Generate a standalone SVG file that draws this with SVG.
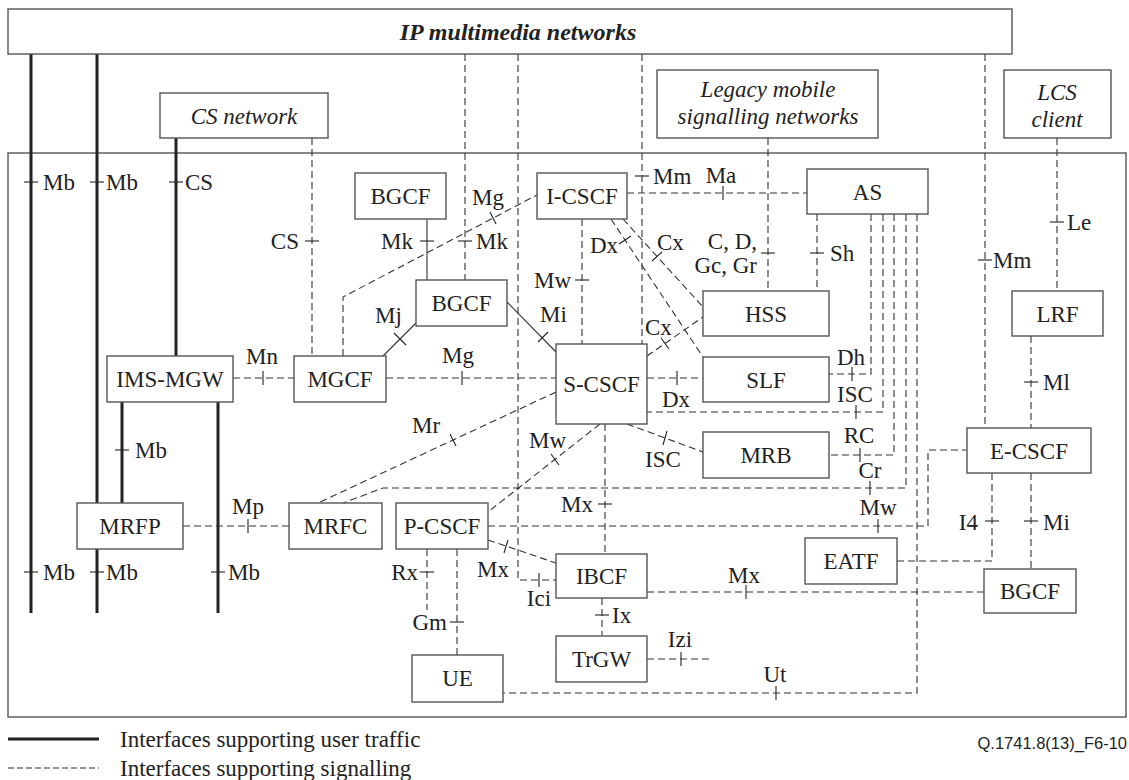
<svg xmlns="http://www.w3.org/2000/svg" width="1129" height="780" viewBox="0 0 1129 780" font-family="'Liberation Serif','Times New Roman','DejaVu Serif',serif">
<style>
.frame{fill:none;stroke:#555;stroke-width:1.4}
.box{fill:#fff;stroke:#555;stroke-width:1.4}
.usr{fill:none;stroke:#222;stroke-width:3}
.sig{fill:none;stroke:#333;stroke-width:1.1;stroke-dasharray:7 4}
.thin{fill:none;stroke:#333;stroke-width:1.1}
.tick{stroke:#222;stroke-width:1.1}
text{font-family:'Liberation Serif','Times New Roman','DejaVu Serif',serif;font-size:23px;fill:#222}
.c{text-anchor:middle}
.e{text-anchor:end}
.it{font-style:italic}
.cap{font-family:'Liberation Sans',Arial,sans-serif;font-size:16.5px;text-anchor:end}
</style>
<rect width="1129" height="780" fill="#fff"/>
<g id="frames">
<rect class="frame" x="8" y="153" width="1118" height="564"/>
</g>
<g id="connectors">
<line class="usr" x1="31" y1="54" x2="31" y2="613"/>
<line class="usr" x1="97" y1="54" x2="97" y2="613"/>
<line class="usr" x1="176" y1="138" x2="176" y2="356"/>
<line class="usr" x1="122" y1="402" x2="122" y2="503"/>
<line class="usr" x1="218" y1="402" x2="218" y2="613"/>
<line class="thin" x1="427" y1="219" x2="427" y2="280"/>
<line class="thin" x1="416" y1="323" x2="383" y2="356"/>
<line class="thin" x1="507" y1="302" x2="556" y2="352"/>
<line class="sig" x1="312" y1="138" x2="312" y2="356"/>
<polyline class="sig" points="343,356 343,297 537,195"/>
<line class="sig" x1="465" y1="54" x2="465" y2="280"/>
<polyline class="sig" points="518,54 518,580 556,580"/>
<line class="sig" x1="642" y1="54" x2="642" y2="344"/>
<line class="sig" x1="582" y1="219" x2="582" y2="344"/>
<line class="sig" x1="627" y1="193" x2="807" y2="193"/>
<line class="sig" x1="768" y1="138" x2="768" y2="291"/>
<line class="sig" x1="611" y1="219" x2="703" y2="357"/>
<line class="sig" x1="623" y1="219" x2="703" y2="307"/>
<line class="sig" x1="647" y1="356" x2="703" y2="317"/>
<line class="sig" x1="647" y1="378" x2="703" y2="378"/>
<line class="sig" x1="386" y1="378" x2="556" y2="378"/>
<line class="sig" x1="233" y1="378" x2="294" y2="378"/>
<line class="sig" x1="817" y1="214" x2="817" y2="291"/>
<polyline class="sig" points="871,214 871,374 829,374"/>
<polyline class="sig" points="883,214 883,412 647,412"/>
<polyline class="sig" points="894,214 894,455 829,455"/>
<polyline class="sig" points="906,214 906,488 383,488 343,503"/>
<polyline class="sig" points="917,214 917,693 503,693"/>
<line class="sig" x1="627" y1="424" x2="703" y2="452"/>
<line class="sig" x1="556" y1="392" x2="318" y2="503"/>
<line class="sig" x1="600" y1="424" x2="488" y2="512"/>
<line class="sig" x1="605" y1="424" x2="605" y2="554"/>
<polyline class="sig" points="488,526 928,526 928,450 967,450"/>
<line class="sig" x1="183" y1="526" x2="289" y2="526"/>
<line class="sig" x1="488" y1="540" x2="556" y2="563"/>
<line class="sig" x1="427" y1="549" x2="427" y2="610"/>
<line class="sig" x1="457" y1="549" x2="457" y2="655"/>
<line class="sig" x1="602" y1="598" x2="602" y2="636"/>
<line class="sig" x1="647" y1="659" x2="710" y2="659"/>
<line class="sig" x1="647" y1="592" x2="984" y2="592"/>
<line class="sig" x1="985" y1="54" x2="985" y2="428"/>
<line class="sig" x1="1057" y1="138" x2="1057" y2="291"/>
<line class="sig" x1="1031" y1="336" x2="1031" y2="428"/>
<line class="sig" x1="1031" y1="473" x2="1031" y2="569"/>
<polyline class="sig" points="992,473 992,561 897,561"/>
<g class="tick">
<line x1="24" y1="182" x2="38" y2="182"/>
<line x1="90" y1="182" x2="104" y2="182"/>
<line x1="169" y1="182" x2="183" y2="182"/>
<line x1="24" y1="572" x2="38" y2="572"/>
<line x1="90" y1="572" x2="104" y2="572"/>
<line x1="211" y1="572" x2="225" y2="572"/>
<line x1="115" y1="450" x2="129" y2="450"/>
<line x1="305" y1="241" x2="319" y2="241"/>
<line x1="420" y1="241" x2="434" y2="241"/>
<line x1="458" y1="241" x2="472" y2="241"/>
<line x1="490" y1="212" x2="496" y2="224"/>
<line x1="635" y1="176" x2="649" y2="176"/>
<line x1="723" y1="186" x2="723" y2="200"/>
<line x1="575" y1="280" x2="589" y2="280"/>
<line x1="619" y1="244" x2="631" y2="236"/>
<line x1="652" y1="261" x2="662" y2="252"/>
<line x1="761" y1="253" x2="775" y2="253"/>
<line x1="810" y1="253" x2="824" y2="253"/>
<line x1="394" y1="333" x2="406" y2="345"/>
<line x1="538" y1="342" x2="548" y2="332"/>
<line x1="661" y1="338" x2="669" y2="349"/>
<line x1="677" y1="371" x2="677" y2="385"/>
<line x1="462" y1="371" x2="462" y2="385"/>
<line x1="263" y1="371" x2="263" y2="385"/>
<line x1="852" y1="367" x2="852" y2="381"/>
<line x1="856" y1="405" x2="856" y2="419"/>
<line x1="860" y1="448" x2="860" y2="462"/>
<line x1="870" y1="481" x2="870" y2="495"/>
<line x1="878" y1="519" x2="878" y2="533"/>
<line x1="450" y1="434" x2="456" y2="446"/>
<line x1="551" y1="454" x2="559" y2="465"/>
<line x1="667" y1="431" x2="663" y2="445"/>
<line x1="598" y1="504" x2="612" y2="504"/>
<line x1="248" y1="519" x2="248" y2="533"/>
<line x1="508" y1="540" x2="504" y2="553"/>
<line x1="539" y1="573" x2="539" y2="587"/>
<line x1="420" y1="572" x2="434" y2="572"/>
<line x1="450" y1="622" x2="464" y2="622"/>
<line x1="595" y1="615" x2="609" y2="615"/>
<line x1="681" y1="652" x2="681" y2="666"/>
<line x1="776" y1="686" x2="776" y2="700"/>
<line x1="746" y1="585" x2="746" y2="599"/>
<line x1="978" y1="260" x2="992" y2="260"/>
<line x1="1050" y1="222" x2="1064" y2="222"/>
<line x1="1024" y1="382" x2="1038" y2="382"/>
<line x1="1024" y1="521" x2="1038" y2="521"/>
<line x1="985" y1="521" x2="999" y2="521"/>
</g>
</g>
<g id="ip-multimedia">
<rect class="box" x="8" y="9" width="1004" height="45"/>
<text class="c it" x="518" y="40" style="font-weight:bold;font-size:24px">IP multimedia networks</text>
</g>
<g id="cs-network">
<rect class="box" x="160" y="93" width="168" height="45"/>
<text class="c it" x="244" y="124">CS network</text>
</g>
<g id="legacy">
<rect class="box" x="657" y="70" width="221" height="68"/>
<text class="c it" x="768" y="97">Legacy mobile</text>
<text class="c it" x="768" y="124">signalling networks</text>
</g>
<g id="lcs-client">
<rect class="box" x="1004" y="70" width="107" height="68"/>
<text class="c it" x="1057" y="100">LCS</text>
<text class="c it" x="1057" y="127">client</text>
</g>
<g id="bgcf-top"><rect class="box" x="355" y="173" width="91" height="46"/><text class="c" x="400.5" y="204">BGCF</text></g>
<g id="i-cscf"><rect class="box" x="537" y="173" width="90" height="46"/><text class="c" x="582" y="204">I-CSCF</text></g>
<g id="as"><rect class="box" x="807" y="169" width="121" height="45"/><text class="c" x="867.5" y="200">AS</text></g>
<g id="bgcf-mid"><rect class="box" x="416" y="280" width="91" height="46"/><text class="c" x="461.5" y="311">BGCF</text></g>
<g id="hss"><rect class="box" x="703" y="291" width="126" height="45"/><text class="c" x="766" y="322">HSS</text></g>
<g id="lrf"><rect class="box" x="1012" y="291" width="91" height="45"/><text class="c" x="1057.5" y="322">LRF</text></g>
<g id="s-cscf"><rect class="box" x="556" y="344" width="91" height="80"/><text class="c" x="601.5" y="392">S-CSCF</text></g>
<g id="ims-mgw"><rect class="box" x="107" y="356" width="126" height="46"/><text class="c" x="170" y="387">IMS-MGW</text></g>
<g id="mgcf"><rect class="box" x="294" y="356" width="92" height="46"/><text class="c" x="340" y="387">MGCF</text></g>
<g id="slf"><rect class="box" x="703" y="357" width="126" height="45"/><text class="c" x="766" y="388">SLF</text></g>
<g id="mrb"><rect class="box" x="703" y="432" width="126" height="46"/><text class="c" x="766" y="463">MRB</text></g>
<g id="e-cscf"><rect class="box" x="967" y="428" width="124" height="45"/><text class="c" x="1029" y="459">E-CSCF</text></g>
<g id="mrfp"><rect class="box" x="77" y="503" width="106" height="46"/><text class="c" x="130" y="534">MRFP</text></g>
<g id="mrfc"><rect class="box" x="289" y="503" width="93" height="46"/><text class="c" x="335.5" y="534">MRFC</text></g>
<g id="p-cscf"><rect class="box" x="396" y="503" width="92" height="46"/><text class="c" x="442" y="534">P-CSCF</text></g>
<g id="eatf"><rect class="box" x="805" y="538" width="92" height="46"/><text class="c" x="851" y="569">EATF</text></g>
<g id="ibcf"><rect class="box" x="556" y="554" width="91" height="44"/><text class="c" x="601.5" y="584">IBCF</text></g>
<g id="bgcf-right"><rect class="box" x="984" y="569" width="92" height="44"/><text class="c" x="1030" y="599">BGCF</text></g>
<g id="trgw"><rect class="box" x="556" y="636" width="91" height="46"/><text class="c" x="601.5" y="667">TrGW</text></g>
<g id="ue"><rect class="box" x="412" y="655" width="91" height="47"/><text class="c" x="457.5" y="686">UE</text></g>
<g id="labels">
<text x="43" y="190">Mb</text>
<text x="106" y="190">Mb</text>
<text x="185" y="190">CS</text>
<text x="43" y="580">Mb</text>
<text x="106" y="580">Mb</text>
<text x="228" y="580">Mb</text>
<text x="135" y="458">Mb</text>
<text class="e" x="299" y="249">CS</text>
<text class="e" x="413" y="249">Mk</text>
<text x="476" y="249">Mk</text>
<text x="472" y="205">Mg</text>
<text x="653" y="184">Mm</text>
<text class="c" x="721" y="183">Ma</text>
<text class="e" x="571" y="288">Mw</text>
<text x="590" y="253">Dx</text>
<text x="657" y="250">Cx</text>
<text class="e" x="757" y="249">C, D,</text>
<text class="e" x="757" y="273">Gc, Gr</text>
<text x="830" y="261">Sh</text>
<text x="375" y="323">Mj</text>
<text x="540" y="322">Mi</text>
<text x="645" y="335">Cx</text>
<text class="c" x="676" y="407">Dx</text>
<text class="c" x="458" y="363">Mg</text>
<text class="c" x="262" y="364">Mn</text>
<text class="c" x="851" y="365">Dh</text>
<text class="c" x="855" y="402">ISC</text>
<text class="c" x="859" y="443">RC</text>
<text class="c" x="870" y="478">Cr</text>
<text class="c" x="878" y="515">Mw</text>
<text x="412" y="433">Mr</text>
<text x="529" y="448">Mw</text>
<text x="645" y="467">ISC</text>
<text class="e" x="593" y="512">Mx</text>
<text class="c" x="248" y="514">Mp</text>
<text x="477" y="577">Mx</text>
<text class="c" x="539" y="606">Ici</text>
<text class="e" x="418" y="580">Rx</text>
<text class="e" x="447" y="630">Gm</text>
<text x="612" y="623">Ix</text>
<text class="c" x="680" y="647">Izi</text>
<text class="c" x="775" y="682">Ut</text>
<text class="c" x="744" y="583">Mx</text>
<text x="993" y="268">Mm</text>
<text x="1067" y="230">Le</text>
<text x="1043" y="390">Ml</text>
<text x="1043" y="530">Mi</text>
<text class="e" x="978" y="530">I4</text>
</g>
<g id="legend">
<line class="usr" x1="8" y1="739" x2="99" y2="739"/>
<line x1="8" y1="768" x2="99" y2="768" style="stroke:#333;stroke-width:1.1;stroke-dasharray:6 3"/>
<text x="120" y="747">Interfaces supporting user traffic</text>
<text x="120" y="776">Interfaces supporting signalling</text>
<text class="cap" x="1127" y="749">Q.1741.8(13)_F6-10</text>
</g>
</svg>
